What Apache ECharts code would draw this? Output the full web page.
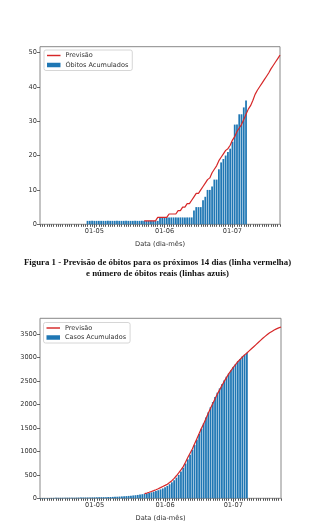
<!DOCTYPE html>
<html><head><meta charset="utf-8">
<script src="https://cdn.jsdelivr.net/npm/echarts@6/dist/echarts.min.js"></script>
<style>html,body{margin:0;padding:0;background:#fff}#c{width:324px;height:523px}</style>
</head><body><div id="c"></div><script>
// Categories: days from 07-04 to 22-07 (dd-mm)
const startDay = Date.UTC(2020, 3, 7), endDay = Date.UTC(2020, 6, 22);
const categories = [];
for (let d = startDay; d <= endDay; d += 86400000) {
  const dt = new Date(d);
  categories.push(String(dt.getUTCDate()).padStart(2,'0') + '-' + String(dt.getUTCMonth()+1).padStart(2,'0'));
}
const xTickLabels = ['01-05', '01-06', '01-07'];
const yTicks1 = [0, 10, 20, 30, 40, 50];
const yTicks2 = [0, 500, 1000, 1500, 2000, 2500, 3000, 3500];

// Óbitos acumulados, from 07-04 to 07-07
const obitosAcumulados = [
  0,0,0,0,0,0,0,0,0,0,0,0,0,0,0,0,0,0,0,0,0,
  1,1,1,1,1,1,1,1,1,1,1,1,1,1,1,1,1,1,1,1,1,1,1,1,1,1,1,1,1,1,1,1,
  2,2,2,2,2,2,2,2,2,2,2,2,2,2,2,
  4,5,5,5,7,8,10,10,11,13,13,16,18,19,20,21,22,
  24,29,29,32,32,34,36
];
// Previsão óbitos, from 23-05 to 22-07
const previsaoStart = '23-05';
const previsaoObitos = [
  1,1,1,1,1,1,2,2,2,
  2,2,3,3,3,3,4,4,5,5,
  6,6,7,8,9,9,10,11,12,13,
  13.5,15,16,17,18.5,19.5,20.5,21.5,22,23,
  24.5,25.5,27,28,29,30.5,32,33.5,34.5,36,
  37.8,39,40,41,42,43,44,45.2,46.2,47.2,
  48.2,49.2
];
// Casos acumulados, from 07-04 to 07-07
const casosAcumulados = [
  5,6,6,7,8,8,9, 10,10,11,11,12,12,13, 13,14,14,15,15,16,17,17,18,19,
  20,21,22,23,24,25,27,28,30,32, 34,37,40,43,47,51,56,61,66,72,
  80,88,97,106,116,127,140,155,172,190,210,
  235,265,300,340,385,440,500,570,650,740,
  830,930,1030,1140,1250,1370,1480,1600,1720,1830,
  1940,2050,2160,2250,2340,2430,2510,2590,2660,2730,
  2800,2860,2920,2970,3020,3060,3100
];
// Previsão casos, from 23-05 to 22-07
const previsaoCasos = [
  100,112,128,145,163,183,205,228,252,
  275,300,335,375,425,480,540,605,675,770,
  870,960,1050,1160,1270,1380,1490,1590,1700,1810,
  1920,2020,2120,2220,2310,2400,2490,2570,2650,2720,
  2790,2850,2910,2960,3010,3055,3095,3140,3185,3230,
  3275,3320,3365,3410,3450,3490,3525,3555,3585,3610,
  3630,3650
];

const offset = categories.indexOf(previsaoStart);
const pad = arr => new Array(offset).fill(null).concat(arr);

const FONT = 'DejaVu Sans';
const RED = '#d62728', BLUE = '#1f77b4';
const isMajor = (i, v) => xTickLabels.includes(v);
const LINE_ICON = 'path://M0,0L28,0L28,3L0,3Z';

function xAxes(g) {
  return [
    { type: 'category', gridIndex: g, position: 'bottom', data: categories, boundaryGap: false,
      axisLine: { show: false },
      axisTick: { show: true, interval: isMajor, length: 3.5, lineStyle: { color: '#444', width: 0.8 } },
      axisLabel: { interval: isMajor, fontSize: 6.6, fontFamily: FONT, color: '#333', margin: 3 },
      name: 'Data (dia-mês)', nameLocation: 'middle', nameGap: 16,
      nameTextStyle: { fontSize: 6.7, fontFamily: FONT, color: '#333' } },
    { type: 'category', gridIndex: g, position: 'bottom', offset: 0, data: categories, boundaryGap: false,
      axisLine: { show: false },
      axisTick: { show: true, interval: 0, length: 2.5, lineStyle: { color: '#555', width: 1 } },
      axisLabel: { show: false } }
  ];
}
function yAxis(g, max, ticks) {
  return { type: 'value', gridIndex: g, min: 0, max: max,
    axisLine: { show: false }, splitLine: { show: false },
    axisTick: { show: true, length: 3, customValues: ticks, lineStyle: { color: '#444', width: 0.8 } },
    axisLabel: { customValues: ticks, formatter: v => String(v), fontSize: 6.6, fontFamily: FONT, color: '#333', margin: 3 } };
}
function legend(left, top, names) {
  return { orient: 'vertical', left: left, top: top, padding: [2, 4, 2, 3], itemGap: 2.5,
    itemWidth: 13.5, itemHeight: 4.5, borderColor: '#ccc', borderWidth: 0.8, borderRadius: 2,
    backgroundColor: '#fff',
    textStyle: { fontSize: 6.5, fontFamily: FONT, color: '#333' },
    data: [ { name: names[0], icon: LINE_ICON }, { name: names[1], icon: 'rect' } ] };
}

const chart = echarts.init(document.getElementById('c'), null, { renderer: 'canvas' });
chart.setOption({
  backgroundColor: '#fff',
  animation: false,
  grid: [
    { left: 40, top: 46.7, width: 240, height: 177.6, show: true, borderColor: '#888', borderWidth: 1, backgroundColor: 'transparent' },
    { left: 40, top: 318.3, width: 241, height: 180, show: true, borderColor: '#888', borderWidth: 1, backgroundColor: 'transparent' }
  ],
  xAxis: xAxes(0).concat(xAxes(1)),
  yAxis: [ yAxis(0, 51.66, yTicks1), yAxis(1, 3835, yTicks2) ],
  legend: [
    legend(44, 50, ['Previsão', 'Óbitos Acumulados']),
    legend(43.5, 322.5, ['Previsão', 'Casos Acumulados'])
  ],
  graphic: [
    { type: 'text', x: 157.5, y: 256.5,
      style: { text: 'Figura 1 - Previsão de óbitos para os próximos 14 dias (linha vermelha)\ne número de óbitos reais (linhas azuis)',
        textAlign: 'center', textVerticalAlign: 'top', fontFamily: 'Liberation Serif', fontWeight: 'bold',
        fontSize: 8.8, lineHeight: 11.5, fill: '#111' } }
  ],
  series: [
    { name: 'Óbitos Acumulados', type: 'bar', xAxisIndex: 0, yAxisIndex: 0, data: obitosAcumulados,
      barWidth: '78%', itemStyle: { color: BLUE } },
    { name: 'Previsão', type: 'line', xAxisIndex: 0, yAxisIndex: 0, data: pad(previsaoObitos),
      symbol: 'none', lineStyle: { color: RED, width: 1.2 }, itemStyle: { color: RED }, z: 5 },
    { name: 'Casos Acumulados', type: 'bar', xAxisIndex: 2, yAxisIndex: 1, data: casosAcumulados,
      barWidth: '78%', itemStyle: { color: BLUE } },
    { name: 'Previsão', type: 'line', xAxisIndex: 2, yAxisIndex: 1, data: pad(previsaoCasos),
      symbol: 'none', smooth: false, lineStyle: { color: RED, width: 1.2 }, itemStyle: { color: RED }, z: 5 }
  ]
});
</script></body></html>
